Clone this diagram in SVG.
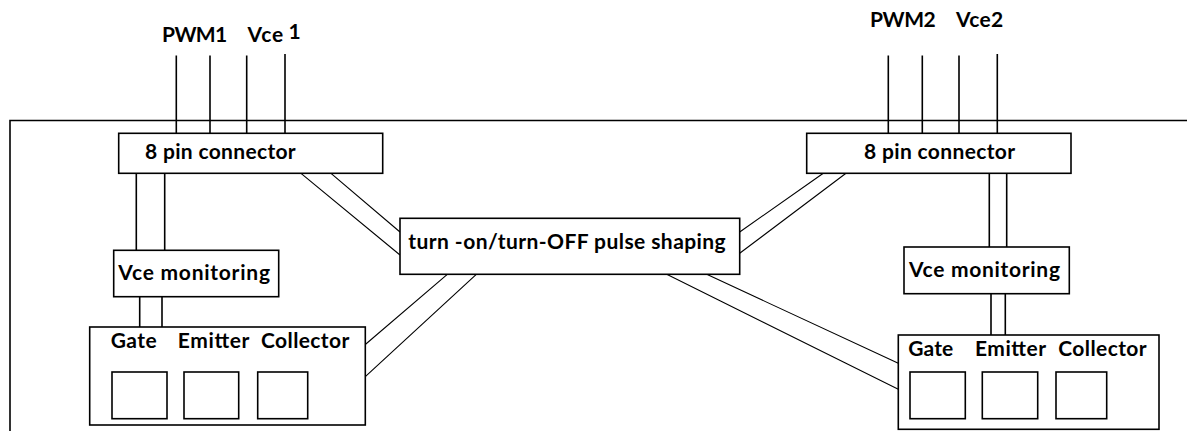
<svg xmlns="http://www.w3.org/2000/svg" width="1187" height="431" viewBox="0 0 1187 431">
  <style>
    .box { fill: #fff; stroke: #000; stroke-width: 1.6; }
    .wire { stroke: #000; stroke-width: 1.6; fill: none; }
    .diag { stroke: #000; stroke-width: 1.1; fill: none; }
    .lbl { font-family: Lato, "Liberation Sans", sans-serif; font-weight: 700; font-size: 21px; fill: #000; }
  </style>
  <rect width="1187" height="431" fill="#fff"/>

  <!-- board outline: only top and left edges fall inside the view -->
  <g id="board">
    <path class="wire" d="M10,431 V120.5 H1187"/>
  </g>

  <!-- signal labels above the board -->
  <g id="inputs-1">
    <text class="lbl" x="162" y="41.5" textLength="65.3">PWM1</text>
    <text class="lbl" x="247.5" y="41.5" textLength="35.7">Vce</text>
    <text class="lbl" x="288.5" y="38.5" font-size="18">1</text>
  </g>
  <g id="inputs-2">
    <text class="lbl" x="870" y="26.5" textLength="65.7">PWM2</text>
    <text class="lbl" x="956" y="26.5" textLength="47.3">Vce2</text>
  </g>

  <!-- connectors -->
  <g id="connectors">
    <!-- pins into left connector -->
    <path class="wire" d="M176.3,55.5 V133.3 M210,55.5 V133.3 M246.7,55.5 V133.3 M285,54 V133.3"/>
    <!-- pins into right connector -->
    <path class="wire" d="M888.3,55.5 V133.3 M922.3,55.5 V133.3 M959,55.5 V133.3 M997.3,54 V133.3"/>
    <!-- left connector to Vce monitoring -->
    <path class="wire" d="M136.3,173.3 V250.3 M164.7,173.3 V250.3"/>
    <!-- left Vce monitoring to device terminals -->
    <path class="wire" d="M139.7,296.7 V327 M162,296.7 V331"/>
    <!-- right connector to Vce monitoring -->
    <path class="wire" d="M989.3,173.3 V247 M1006.7,173.3 V247"/>
    <!-- right Vce monitoring to device terminals -->
    <path class="wire" d="M991,293.7 V335 M1005.3,293.7 V336.7"/>
    <!-- left connector to pulse shaping -->
    <path class="diag" d="M301,173.3 L400,255 M331,173.3 L400,232"/>
    <!-- pulse shaping to left device -->
    <path class="diag" d="M365.3,344.5 L447.3,274.3 M365.3,376.7 L476.3,274.3"/>
    <!-- pulse shaping to right connector -->
    <path class="diag" d="M739.7,232 L823.3,173.3 M739.7,253.3 L846,173.3"/>
    <!-- pulse shaping to right device -->
    <path class="diag" d="M706.7,274.3 L898.3,363.3 M666.7,274.3 L898.3,389.3"/>
  </g>

  <g id="connector-1">
    <rect class="box" x="118.7" y="133.3" width="264" height="40"/>
    <text class="lbl" x="145" y="158.5" textLength="150.7">8 pin connector</text>
  </g>

  <g id="connector-2">
    <rect class="box" x="806.7" y="133.3" width="264.3" height="40"/>
    <text class="lbl" x="864" y="158.5" textLength="151">8 pin connector</text>
  </g>

  <g id="vce-monitor-1">
    <rect class="box" x="113.7" y="250.3" width="165" height="46.4"/>
    <text class="lbl" x="118.3" y="280" textLength="151.7">Vce monitoring</text>
  </g>

  <g id="vce-monitor-2">
    <rect class="box" x="904" y="247" width="165.3" height="46.7"/>
    <text class="lbl" x="909" y="276.7" textLength="151">Vce monitoring</text>
  </g>

  <g id="pulse-shaping">
    <rect class="box" x="400" y="218.3" width="339.7" height="56"/>
    <text class="lbl" x="408.3" y="249.3" textLength="317.4">turn -on/turn-OFF pulse shaping</text>
  </g>

  <g id="device-1">
    <rect class="box" x="89.7" y="327" width="275.6" height="98"/>
    <text class="lbl" x="110.7" y="348.3" textLength="46">Gate</text>
    <text class="lbl" x="177.7" y="348.3" textLength="71.7">Emitter</text>
    <text class="lbl" x="261" y="348.3" textLength="88.3">Collector</text>
    <rect class="box" x="112" y="372" width="55" height="46.7"/>
    <rect class="box" x="184" y="372" width="54.7" height="46.7"/>
    <rect class="box" x="257.7" y="372" width="50" height="46.7"/>
  </g>

  <g id="device-2">
    <rect class="box" x="898.3" y="335" width="260.7" height="94.3"/>
    <text class="lbl" x="908.3" y="356" textLength="45">Gate</text>
    <text class="lbl" x="975" y="356" textLength="71">Emitter</text>
    <text class="lbl" x="1058.3" y="356" textLength="88.3">Collector</text>
    <rect class="box" x="910" y="372" width="55.3" height="46.7"/>
    <rect class="box" x="982.3" y="372" width="55.4" height="46.7"/>
    <rect class="box" x="1056" y="372" width="50.7" height="46.7"/>
  </g>
</svg>
